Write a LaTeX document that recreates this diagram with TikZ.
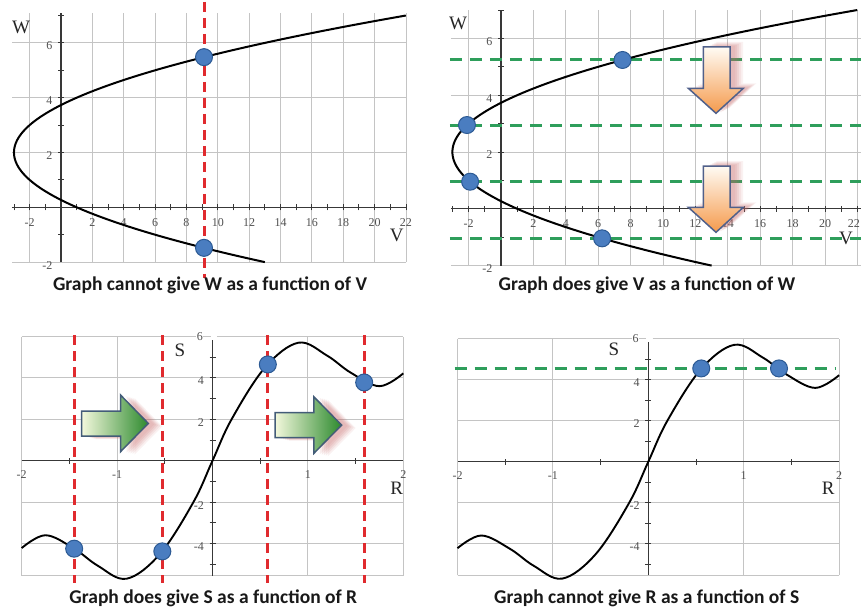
\documentclass[tikz,border=0pt]{standalone}
\usepackage{fontspec}
\setmainfont{Liberation Serif}
\newfontfamily\capfont{Carlito}
\definecolor{gridc}{HTML}{C4C4C4}
\definecolor{axisc}{HTML}{383838}
\definecolor{numc}{HTML}{505050}
\definecolor{redd}{HTML}{E02A2E}
\definecolor{greend}{HTML}{2E9E5B}
\definecolor{dotfill}{HTML}{4A7DC0}
\definecolor{dotdraw}{HTML}{2C5A94}
\definecolor{oedge}{HTML}{50608A}
\definecolor{gedge}{HTML}{435C78}
\definecolor{orangeT}{HTML}{FFFBF4}
\definecolor{orangeM}{HTML}{FBC793}
\definecolor{orangeB}{HTML}{F59A4C}
\definecolor{greenL}{HTML}{F3F8DC}
\definecolor{greenD}{HTML}{2D8A2E}
\definecolor{shadowc}{HTML}{C86A6A}
\tikzset{
  darrowpic/.pic={
    \foreach \dx/\dy/\op in {13/-5/0.09,11/-4/0.11,9/-3/0.13,7/-2/0.13,5/-1/0.10}{
      \fill[shadowc,opacity=\op] (\dx,\dy) -- ++(26.7,0) -- ++(0,41.3) -- ++(13.3,0) -- ++(-27.3,25) -- ++(-27.7,-25) -- ++(15,0) -- cycle;
    }
    \path[draw=oedge,line width=1.5pt,line join=miter,top color=orangeT,middle color=orangeM,bottom color=orangeB]
      (0,0) -- (26.7,0) -- (26.7,41.3) -- (40,41.3) -- (12.7,66.3) -- (-15,41.3) -- (0,41.3) -- cycle;
  },
  garrowpic/.pic={
    \foreach \dx/\dy/\op in {14/3/0.09,12/2.5/0.11,10/2/0.13,8/1.5/0.13,6/1/0.10}{
      \fill[shadowc,opacity=\op] (\dx,\dy) -- ++(38.8,0) -- ++(0,-16) -- ++(27.8,28.4) -- ++(-27.8,28.3) -- ++(0,-15.7) -- ++(-38.8,0) -- cycle;
    }
    \path[draw=gedge,line width=1.5pt,line join=miter,left color=greenL,right color=greenD]
      (0,0) -- (38.8,0) -- (38.8,-16) -- (66.6,12.4) -- (38.8,40.7) -- (38.8,25) -- (0,25) -- cycle;
  }
}
\begin{document}
\begin{tikzpicture}[x=1pt,y=-1pt,
  gridl/.style={draw=gridc,line width=0.9pt},
  axisl/.style={draw=axisc,line width=1.3pt},
  tickl/.style={draw=axisc,line width=0.9pt},
  curvel/.style={draw=black,line width=2pt,line join=round},
  reddash/.style={draw=redd,line width=3pt,dash pattern=on 10pt off 6pt},
  greendash/.style={draw=greend,line width=3pt,dash pattern=on 12pt off 8pt},
  dotn/.style={circle,fill=dotfill,draw=dotdraw,line width=1pt,minimum size=17pt,inner sep=0pt},
  numlbl/.style={font=\fontsize{12}{12}\selectfont,text=numc,inner sep=0.5pt},
  axlbl/.style={font=\fontsize{19}{19}\selectfont,text=black!85,inner sep=0pt},
  capn/.style={font=\capfont\bfseries\fontsize{19.5}{19.5}\selectfont,text=black!90,inner sep=0pt},
]
\useasboundingbox (0,0) rectangle (861,610);
\fill[white] (0,0) rectangle (861,610);

% ---------------- Panel 1 (top left) ----------------
\begin{scope}[shift={(61pt,-207.3pt)},x=15.68pt,y=27.4pt]
  \foreach \v in {-2,2,4,...,22} \draw[gridl] (\v,-2) -- (\v,7.1);
  \foreach \w in {-2,2,4,6} \draw[gridl] (-3.1,\w) -- (22,\w);
  \draw[axisl] (-3.1,0) -- (22,0);
  \draw[axisl] (0,-2) -- (0,7.1);
  \foreach \v in {-3,...,22} \draw[tickl] (\v,0) ++(0,-3pt) -- ++(0,6pt);
  \foreach \w in {-1,...,7} \draw[tickl] (0,\w) ++(-3pt,0) -- ++(6pt,0);
  \foreach \v [count=\i] in {-2,2,4,...,22} \node[numlbl,yshift=-15pt] (pax\i) at (\v,0) {\v};
  \foreach \w [count=\i] in {-2,2,4,6} \node[numlbl,anchor=east,xshift=-8pt,yshift=-3pt] (pay\i) at (0,\w) {\w};
  \draw[curvel] plot[domain=-2:7,samples=120,variable=\w] ({(\w-2)^2-3},\w);
  \coordinate (r1t) at (9.12,7.5);
  \coordinate (r1b) at (9.12,-2.58);
  \draw[reddash] (r1t) -- (r1b);
  \node[dotn] (pa1) at (9.12,5.48) {};
  \node[dotn] (pa2) at (9.12,-1.48) {};
\end{scope}

% ---------------- Panel 2 (top right) ----------------
\begin{scope}[shift={(501pt,-208.8pt)},x=16.2pt,y=28.4pt]
  \foreach \v in {-2,2,4,...,22} \draw[gridl] (\v,-2) -- (\v,7.0);
  \foreach \w in {-2,2,4,6} \draw[gridl] (-3.1,\w) -- (22.3,\w);
  \draw[axisl] (-3.1,0) -- (22.3,0);
  \draw[axisl] (0,-2) -- (0,7.0);
  \foreach \v in {-3,...,22} \draw[tickl] (\v,0) ++(0,-3pt) -- ++(0,6pt);
  \foreach \w in {-1,...,7} \draw[tickl] (0,\w) ++(-3pt,0) -- ++(6pt,0);
  \foreach \v [count=\i] in {-2,2,4,...,20} \node[numlbl,yshift=-15pt] (pbx\i) at (\v,0) {\v};
  \node[numlbl,yshift=-15pt,anchor=east] (pbx12) at (22.2,0) {22};
  \foreach \w [count=\i] in {-2,2,4,6} \node[numlbl,anchor=east,xshift=-8pt,yshift=-3pt] (pby\i) at (0,\w) {\w};
  \foreach \w [count=\i] in {5.24,2.95,0.954,-1.04} {
    \coordinate (gl\i) at (-3.16,\w);
    \coordinate (gr\i) at (22.3,\w);
    \draw[greendash] (gl\i) -- (gr\i);
  }
  \draw[curvel] plot[domain=-2:7,samples=120,variable=\w] ({(\w-2)^2-3},\w);
  \node[dotn] (pb1) at (7.50,5.24) {};
  \node[dotn] (pb2) at (-2.10,2.95) {};
  \node[dotn] (pb3) at (-1.906,0.954) {};
  \node[dotn] (pb4) at (6.24,-1.04) {};
\end{scope}
\pic (oa1) at (703.3,47) {darrowpic};
\pic (oa2) at (703.3,166) {darrowpic};

% ---------------- Panel 3 (bottom left) ----------------
\begin{scope}[shift={(212.5pt,-460.7pt)},x=95.4pt,y=20.7pt]
  \foreach \r in {-2,-1,1,2} \draw[gridl] (\r,-5.55) -- (\r,6);
  \foreach \s in {-5.55,-4,-2,2,4} \draw[gridl] (-2,\s) -- (2,\s);
  \draw[gridl] (-2,6) -- (-0.02,6);
  \draw[gridl] (0.045,6) -- (2,6);
  \draw[axisl] (-2,0) -- (2,0);
  \draw[axisl] (0,-5.55) -- (0,5.83);
  \foreach \r in {-1.5,-0.5,0.5,1.5} \draw[tickl] (\r,0) ++(0,-3pt) -- ++(0,6pt);
  \foreach \s in {-5,...,5} \draw[tickl] (0,\s) ++(-3pt,0) -- ++(6pt,0);
  \foreach \r [count=\i] in {-2,-1,1,2} \node[numlbl,yshift=-14pt] (pcx\i) at (\r,0) {\r};
  \foreach \s [count=\i] in {-4,-2,2,4} \node[numlbl,anchor=east,xshift=-8pt,yshift=-3pt] (pcy\i) at (0,\s) {\s};
  \node[numlbl,anchor=east,xshift=-9pt,fill=white] (pcy5) at (0,6) {6};
  \draw[curvel,line width=1.9pt] plot[smooth,tension=0.6] coordinates {
    (-2,-4.22) (-1.75,-3.6) (-1.45,-4.25) (-1.2,-5.08) (-0.9,-5.7)
    (-0.55,-4.5) (-0.2,-2.0) (0,0) (0.2,2.0) (0.55,4.5)
    (0.9,5.7) (1.2,5.08) (1.45,4.25) (1.75,3.6) (2,4.22)};
  \foreach \r [count=\i] in {-1.45,-0.526,0.58,1.59} {
    \coordinate (rt\i) at (\r,6.07);
    \coordinate (rb\i) at (\r,-5.91);
    \draw[reddash] (rt\i) -- (rb\i);
  }
  \node[dotn] (pc1) at (-1.45,-4.25) {};
  \node[dotn] (pc2) at (-0.526,-4.38) {};
  \node[dotn] (pc3) at (0.58,4.65) {};
  \node[dotn] (pc4) at (1.59,3.78) {};
\end{scope}
\pic (ga1) at (81.7,411) {garrowpic};
\pic (ga2) at (275,412.7) {garrowpic};

% ---------------- Panel 4 (bottom right) ----------------
\begin{scope}[shift={(648.3pt,-461.7pt)},x=95.4pt,y=20.5pt]
  \foreach \r in {-2,-1,1,2} \draw[gridl] (\r,-5.55) -- (\r,6);
  \foreach \s in {-5.55,-4,-2,2,4} \draw[gridl] (-2,\s) -- (2,\s);
  \draw[gridl] (-2,6) -- (-0.02,6);
  \draw[gridl] (0.045,6) -- (2,6);
  \draw[axisl] (-2,0) -- (2,0);
  \draw[axisl] (0,-5.55) -- (0,5.83);
  \foreach \r in {-1.5,-0.5,0.5,1.5} \draw[tickl] (\r,0) ++(0,-3pt) -- ++(0,6pt);
  \foreach \s in {-5,...,5} \draw[tickl] (0,\s) ++(-3pt,0) -- ++(6pt,0);
  \foreach \r [count=\i] in {-2,-1,1,2} \node[numlbl,yshift=-14pt] (pdx\i) at (\r,0) {\r};
  \foreach \s [count=\i] in {-4,-2,2,4} \node[numlbl,anchor=east,xshift=-8pt,yshift=-3pt] (pdy\i) at (0,\s) {\s};
  \node[numlbl,anchor=east,xshift=-9pt,fill=white] (pdy5) at (0,6) {6};
  \coordinate (g4l) at (-2.03,4.55);
  \coordinate (g4r) at (1.957,4.55);
  \draw[greendash] (g4l) -- (g4r);
  \draw[curvel,line width=1.9pt] plot[smooth,tension=0.6] coordinates {
    (-2,-4.22) (-1.75,-3.6) (-1.45,-4.25) (-1.2,-5.08) (-0.9,-5.7)
    (-0.55,-4.5) (-0.2,-2.0) (0,0) (0.2,2.0) (0.55,4.5)
    (0.9,5.7) (1.2,5.08) (1.45,4.25) (1.75,3.6) (2,4.22)};
  \node[dotn] (pd1) at (0.555,4.55) {};
  \node[dotn] (pd2) at (1.37,4.55) {};
\end{scope}

% ---------------- axis letters ----------------
\node[axlbl] (W1) at (21,27) {W};
\node[axlbl] (V1) at (396.7,235) {V};
\node[axlbl] (W2) at (458,23) {W};
\node[axlbl] (V2) at (846,238) {V};
\node[axlbl] (S3) at (180,350) {S};
\node[axlbl] (R3) at (396.7,488.3) {R};
\node[axlbl] (S4) at (614,349.3) {S};
\node[axlbl] (R4) at (828.3,488.3) {R};

% ---------------- captions ----------------
\node[capn] (c1) at (210,285) {Graph cannot give W as a function of V};
\node[capn] (c2) at (647,285) {Graph does give V as a function of W};
\node[capn] (c3) at (213.3,598.3) {Graph does give S as a function of R};
\node[capn] (c4) at (646.7,598.3) {Graph cannot give R as a function of S};
\end{tikzpicture}
\end{document}
